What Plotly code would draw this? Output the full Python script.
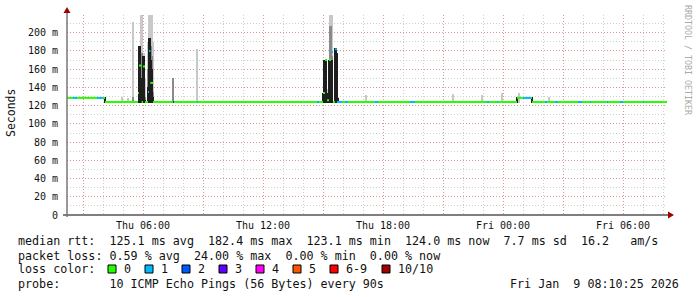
import plotly.graph_objects as go
import pandas as pd

# ---------------- data ----------------
t_start = "2026-01-08 02:12"
t_end = "2026-01-09 08:12"

# median rtt as step segments: start time ("DD HH:MM" of Jan 2026), value (ms), lost pings (of 10)
med_start = ["08 02:12", "08 02:30", "08 02:42", "08 03:42", "08 04:00", "08 04:06",
             "08 05:45", "08 05:48", "08 05:56", "08 06:00", "08 06:06", "08 06:15", "08 06:18", "08 06:22", "08 06:30",
             "08 07:30", "08 07:33", "08 08:42", "08 08:45",
             "08 14:42", "08 14:48", "08 15:00", "08 15:06", "08 15:12", "08 15:18", "08 15:24", "08 15:30", "08 15:36", "08 15:42", "08 15:57",
             "08 16:06", "08 16:15", "08 17:36", "08 17:45", "08 19:21", "08 19:36", "08 23:12", "08 23:18", "08 23:42", "08 23:45",
             "09 00:42", "09 01:00", "09 01:24", "09 01:27", "09 02:06", "09 02:12", "09 02:36", "09 02:45", "09 03:45", "09 03:57",
             "09 04:21", "09 04:24", "09 05:12", "09 05:15", "09 05:51", "09 06:00", "09 07:00", "09 07:03"]
med_ms = [128.5, 128.5, 128.5, 128.5, 128.5, 124,
          134, 164, 124, 163, 124, 135, 180, 145, 124,
          124, 124, 124, 124,
          124, 124, 134, 170, 126, 170, 179, 124, 182, 124, 124,
          124, 124, 124, 124, 124, 124, 124, 124, 124, 124,
          128.5, 128.5, 128.5, 124, 124, 124, 124, 124, 124, 124,
          124, 124, 124, 124, 124, 124, 124, 124]
med_loss = [0, 1, 0, 1, 0, 0,
            0, 0, 0, 0, 0, 1, 1, 0, 0,
            3, 0, 1, 0,
            1, 0, 0, 0, 0, 0, 1, 0, 1, 1, 0,
            1, 0, 1, 0, 1, 0, 1, 0, 1, 0,
            0, 1, 0, 0, 1, 0, 1, 0, 1, 0,
            1, 0, 1, 0, 1, 0, 1, 0]

# smoke (ping spread) per 3-minute column
smoke_t = ["08 04:06", "08 04:57", "08 05:15", "08 05:30",
           "08 05:48", "08 05:51", "08 05:54", "08 05:57", "08 06:00", "08 06:03", "08 06:06", "08 06:15", "08 06:18",
           "08 06:21", "08 06:24", "08 06:27", "08 06:30",
           "08 07:30", "08 08:42",
           "08 15:00", "08 15:03", "08 15:06", "08 15:09", "08 15:12", "08 15:15", "08 15:18", "08 15:21", "08 15:24",
           "08 15:27", "08 15:36", "08 15:39", "08 15:42", "08 15:45",
           "08 17:09", "08 21:30", "08 22:57", "08 23:57", "09 00:42", "09 00:48", "09 01:27", "09 02:18"]
smoke_lo = [123] * 41
smoke_light = [129, 130, 128, 212,
               185, 185, 220, 220, 178, 178, 150, 190, 220, 220, 222, 222, 190,
               150, 182,
               134, 170, 170, 170, 134, 138, 170, 222, 222, 222, 183, 183, 178, 130,
               132, 133, 132, 134, 129, 134, 129, 129]
smoke_mid = [129, 123, 123, 130,
             185, 185, 150, 178, 175, 175, 130, 160, 194, 194, 185, 175, 135,
             150, 123,
             134, 170, 170, 170, 134, 134, 170, 207, 207, 175, 183, 183, 178, 128,
             123, 123, 123, 123, 129, 123, 129, 123]
smoke_dark = [129, 123, 123, 123,
              185, 185, 150, 150, 175, 175, 126, 140, 194, 194, 170, 160, 130,
              123, 123,
              134, 170, 170, 170, 134, 132, 170, 170, 170, 170, 183, 183, 178, 128,
              123, 123, 123, 123, 129, 123, 129, 123]

loss_labels = ["0", "1", "2", "3", "4", "5", "6-9", "10/10"]
loss_colors = ["#26ff00", "#00b8ff", "#0059ff", "#5e00ff", "#ff00f6", "#ff5500", "#ff0000", "#a10000"]

y_ticks = [0, 20, 40, 60, 80, 100, 120, 140, 160, 180, 200]

stat_lines = [
    "median rtt:  125.1 ms avg  182.4 ms max  123.1 ms min  124.0 ms now  7.7 ms sd  16.2   am/s",
    "packet loss: 0.59 % avg  24.00 % max  0.00 % min  0.00 % now",
    "loss color:",
    "probe:       10 ICMP Echo Pings (56 Bytes) every 90s",
]
stamp = "Fri Jan  9 08:10:25 2026"

# ---------------- figure ----------------
W, H = 697, 297
L, R, T, B = 67, 30, 15, 82
PW, PH = W - L - R, H - T - B


def px(x):
    return (x - L) / PW


def py(y):
    return (H - B - y) / PH


def ts(s):
    return pd.Timestamp("2026-01-" + s)


fig = go.Figure()

st = [ts(s) for s in smoke_t]
for hi, col in [(smoke_light, "#c8c8c8"), (smoke_mid, "#8a8a8a"), (smoke_dark, "#1e1e1e")]:
    xs, ys, bs = [], [], []
    for t, lo, h in zip(st, smoke_lo, hi):
        if h > lo:
            xs.append(t)
            ys.append(h - lo)
            bs.append(lo)
    fig.add_trace(go.Bar(x=xs, y=ys, base=bs, width=180000, marker_color=col,
                         marker_line_width=0, showlegend=False, hoverinfo="skip"))

ms = [ts(s) for s in med_start] + [pd.Timestamp(t_end)]
for k, colr in enumerate(loss_colors):
    xs, ys = [], []
    for i in range(len(med_ms)):
        lvl = med_loss[i]
        idx = lvl if lvl <= 5 else (6 if lvl < 10 else 7)
        if idx == k:
            xs += [ms[i], ms[i + 1], None]
            ys += [med_ms[i], med_ms[i], None]
    if xs:
        fig.add_trace(go.Scatter(x=xs, y=ys, mode="lines", line=dict(color=colr, width=2),
                                 showlegend=False, hoverinfo="skip"))

tick_times = pd.date_range("2026-01-08 03:00", "2026-01-09 06:00", freq="3h")
tick_text = [t.strftime("%a %H:%M") if t.hour % 6 == 0 else "" for t in tick_times]

mono = "DejaVu Sans Mono"
major_grid = "rgba(235,110,110,0.6)"
minor_grid = "#cfcfcf"
dots = "1px,2px"
fig.update_layout(
    width=W, height=H, margin=dict(l=L, r=R, t=T, b=B),
    paper_bgcolor="white", plot_bgcolor="white", barmode="overlay", bargap=0,
    showlegend=False,
    font=dict(family=mono, size=10, color="#000"),
    xaxis=dict(type="date", range=[t_start, t_end], tickvals=list(tick_times), ticktext=tick_text,
               showgrid=True, gridcolor=major_grid, griddash=dots, gridwidth=1,
               minor=dict(dtick=3600000, tick0="2026-01-08 00:00", showgrid=True,
                          gridcolor=minor_grid, griddash=dots, gridwidth=1),
               ticks="outside", ticklen=1, tickcolor="rgba(0,0,0,0)",
               showline=False, zeroline=False, tickfont=dict(family=mono, size=10, color="#111")),
    yaxis=dict(range=[0, 219.5], tickvals=y_ticks,
               ticktext=[("%d m" % v) if v else "0" for v in y_ticks],
               showgrid=True, gridcolor=major_grid, griddash=dots, gridwidth=1,
               minor=dict(dtick=10, showgrid=True, gridcolor=minor_grid, griddash=dots, gridwidth=1),
               ticks="outside", ticklen=6, tickcolor="rgba(0,0,0,0)",
               showline=False, zeroline=False, tickfont=dict(family=mono, size=10, color="#111")),
)

# axes lines with arrows
fig.add_shape(type="line", xref="paper", yref="paper", x0=px(63), x1=px(669), y0=0, y1=0,
              line=dict(color="#000", width=1))
fig.add_shape(type="line", xref="paper", yref="paper", x0=0, x1=0, y0=py(217), y1=py(11),
              line=dict(color="#777", width=1.5))
fig.add_shape(type="path", xref="paper", yref="paper",
              path="M %f,%f L %f,%f L %f,%f Z" % (px(63.5), py(13), px(70.5), py(13), px(67), py(7)),
              fillcolor="#a00000", line=dict(width=0))
fig.add_shape(type="path", xref="paper", yref="paper",
              path="M %f,%f L %f,%f L %f,%f Z" % (px(668), py(211.5), px(668), py(218.5), px(674), py(215)),
              fillcolor="#a00000", line=dict(width=0))

# axis title and side text
fig.add_annotation(text="Seconds", xref="paper", yref="paper", x=px(11), y=py(113), textangle=-90,
                   xanchor="center", yanchor="middle",
                   showarrow=False, font=dict(family=mono, size=11.5, color="#111"))
fig.add_annotation(text="RRDTOOL / TOBI OETIKER", xref="paper", yref="paper", x=px(688), y=py(60),
                   textangle=90, xanchor="center", yanchor="middle",
                   showarrow=False, font=dict(family=mono, size=8.3, color="#aaaaaa"))

# legend / stats text
line_y = [241, 255.5, 269, 283.5]
for txt, yy in zip(stat_lines, line_y):
    fig.add_annotation(text=txt.replace(" ", "&nbsp;"), xref="paper", yref="paper", x=px(16), y=py(yy),
                       xanchor="left", yanchor="middle", showarrow=False,
                       font=dict(family=mono, size=11.7, color="#111"))
fig.add_annotation(text=stamp.replace(" ", "&nbsp;"), xref="paper", yref="paper", x=px(681), y=py(283.5),
                   xanchor="right", yanchor="middle", showarrow=False,
                   font=dict(family=mono, size=11.7, color="#111"))

sq_x = [108, 145, 182, 219, 256, 293, 330, 382]
lab_x = [122, 159, 196, 233, 270, 307, 344, 396]
for lab, col, sx, lx in zip(loss_labels, loss_colors, sq_x, lab_x):
    fig.add_shape(type="rect", xref="paper", yref="paper", x0=px(sx), x1=px(sx + 8), y0=py(273), y1=py(265),
                  fillcolor=col, line=dict(color="#000", width=1))
    fig.add_annotation(text=lab, xref="paper", yref="paper", x=px(lx), y=py(269), xanchor="left",
                       yanchor="middle", showarrow=False, font=dict(family=mono, size=11.7, color="#111"))

fig.write_html("out.html")
